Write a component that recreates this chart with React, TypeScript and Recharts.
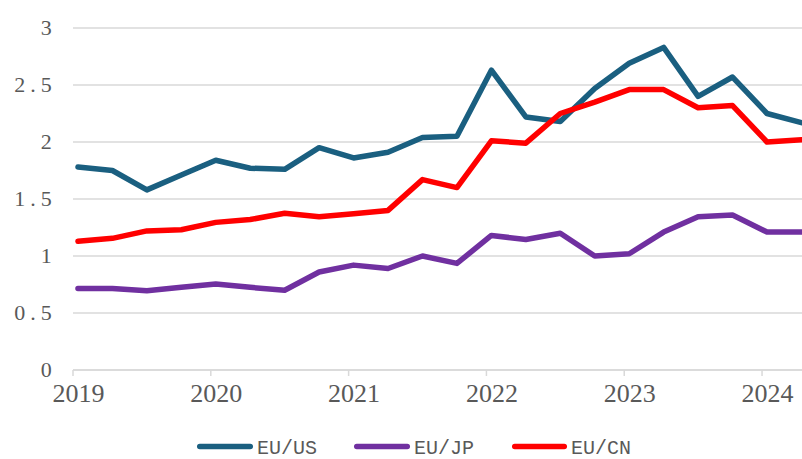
import React from "react";
import { LineChart, Line, XAxis, YAxis, CartesianGrid } from "recharts";

// Quarterly categories (2019Q1 .. 2024Q2)
const quarters = [
  "2019Q1", "2019Q2", "2019Q3", "2019Q4",
  "2020Q1", "2020Q2", "2020Q3", "2020Q4",
  "2021Q1", "2021Q2", "2021Q3", "2021Q4",
  "2022Q1", "2022Q2", "2022Q3", "2022Q4",
  "2023Q1", "2023Q2", "2023Q3", "2023Q4",
  "2024Q1", "2024Q2",
];

const euUs = [1.78, 1.75, 1.58, 1.71, 1.84, 1.77, 1.76, 1.95, 1.86, 1.91, 2.04, 2.05, 2.63, 2.22, 2.18, 2.47, 2.69, 2.83, 2.40, 2.57, 2.25, 2.17];
const euJp = [0.715, 0.715, 0.695, 0.725, 0.755, 0.725, 0.70, 0.86, 0.92, 0.89, 1.00, 0.935, 1.18, 1.145, 1.20, 1.00, 1.02, 1.21, 1.345, 1.36, 1.21, 1.21];
const euCn = [1.13, 1.155, 1.22, 1.23, 1.295, 1.32, 1.375, 1.345, 1.37, 1.40, 1.67, 1.60, 2.01, 1.99, 2.25, 2.35, 2.46, 2.46, 2.30, 2.32, 2.00, 2.02];

const seriesNames = ["EU/US", "EU/JP", "EU/CN"];
const seriesColors = ["#1A5F80", "#7030A0", "#FF0000"];

const yTicks = [0, 0.5, 1, 1.5, 2, 2.5, 3];
const xTicks = [2019, 2020, 2021, 2022, 2023, 2024];

// position of each quarter on the time axis (point sits a little after the quarter start)
const quarterToTime = (q: string) => {
  const year = parseInt(q.slice(0, 4), 10);
  const qi = parseInt(q.slice(5), 10) - 1;
  return year + qi / 4 + 0.036;
};

const data = quarters.map((q, i) => ({
  t: quarterToTime(q),
  us: euUs[i],
  jp: euJp[i],
  cn: euCn[i],
}));
const keys = ["us", "jp", "cn"];

const TEXT = "#595959";
const GRID = "#D9D9D9";

const YTick = (props: any) => {
  const { x, y, payload } = props;
  const s = String(payload.value);
  const cell = 13.3;
  const n = s.length;
  return (
    <g>
      {s.split("").map((ch, k) => (
        <text
          key={k}
          x={x - (n - k - 0.5) * cell}
          y={y + 6.5}
          textAnchor="middle"
          fill={TEXT}
          fontFamily="'Liberation Serif', serif"
          fontSize={22}
        >
          {ch}
        </text>
      ))}
    </g>
  );
};

const XTick = (props: any) => {
  const { x, y, payload } = props;
  return (
    <text
      x={x + 5.5}
      y={y + 24}
      textAnchor="middle"
      fill={TEXT}
      fontFamily="'Liberation Serif', serif"
      fontSize={26}
    >
      {payload.value}
    </text>
  );
};

const legendItems = [
  { lineX1: 197, lineX2: 253, textX: 257 },
  { lineX1: 354, lineX2: 410, textX: 414 },
  { lineX1: 512, lineX2: 567, textX: 571 },
];

export default function App() {
  return (
    <div style={{ position: "relative", width: 802, height: 459 }}>
      <style>{`body{margin:0}`}</style>
      <LineChart
        width={802}
        height={459}
        data={data}
        margin={{ top: 28, right: 0, left: 0, bottom: 59 }}
      >
        <CartesianGrid
          horizontal={true}
          vertical={false}
          stroke={GRID}
          strokeWidth={1.5}
        />
        <XAxis
          dataKey="t"
          type="number"
          domain={[2019, 2024.29]}
          ticks={xTicks}
          height={30}
          axisLine={{ stroke: GRID, strokeWidth: 1.5 }}
          tickLine={{ stroke: GRID, strokeWidth: 1.5 }}
          tickSize={6}
          tickMargin={2}
          tick={<XTick />}
          interval={0}
        />
        <YAxis
          type="number"
          domain={[0, 3]}
          ticks={yTicks}
          width={73}
          axisLine={false}
          tickLine={false}
          tickSize={0}
          tickMargin={20}
          tick={<YTick />}
          interval={0}
        />
        {keys.map((k, i) => (
          <Line
            key={k}
            type="linear"
            dataKey={k}
            name={seriesNames[i]}
            stroke={seriesColors[i]}
            strokeWidth={5.5}
            dot={false}
            activeDot={false}
            strokeLinejoin="round"
            strokeLinecap="round"
            isAnimationActive={false}
          />
        ))}
      </LineChart>
      <svg
        width={802}
        height={459}
        style={{ position: "absolute", left: 0, top: 0, pointerEvents: "none" }}
      >
        {legendItems.map((it, i) => (
          <g key={i}>
            <line
              x1={it.lineX1 + 2.75}
              x2={it.lineX2 - 2.75}
              y1={446.5}
              y2={446.5}
              stroke={seriesColors[i]}
              strokeWidth={5.5}
              strokeLinecap="round"
            />
            <text
              x={it.textX}
              y={453.5}
              fill={TEXT}
              fontFamily="'Liberation Mono', monospace"
              fontSize={20}
            >
              {seriesNames[i]}
            </text>
          </g>
        ))}
      </svg>
    </div>
  );
}
